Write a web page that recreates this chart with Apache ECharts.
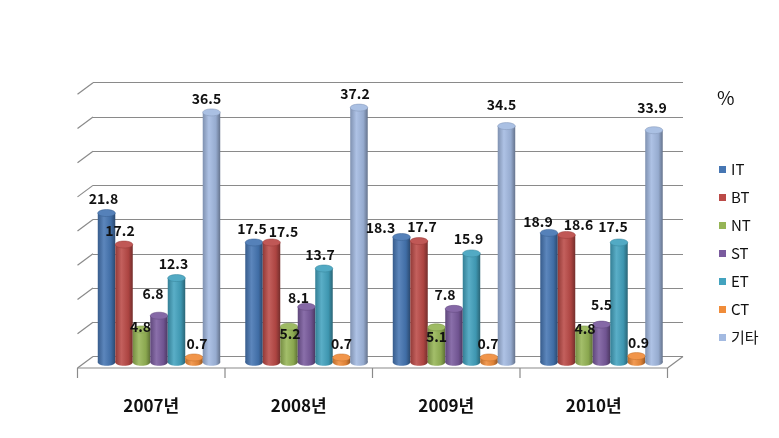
<!DOCTYPE html>
<html>
<head>
<meta charset="utf-8">
<script src="https://cdn.jsdelivr.net/npm/echarts@6/dist/echarts.min.js"></script>
<style>
  html, body { margin: 0; padding: 0; background: #fff; }
  #chart { width: 779px; height: 438px; }
</style>
</head>
<body>
<div id="chart"></div>
<script>
// 연도별 기술분야 비중 (%)
const years = ['2007년', '2008년', '2009년', '2010년'];
const names = ['IT', 'BT', 'NT', 'ST', 'ET', 'CT', '기타'];
const IT  = [21.8, 17.5, 18.3, 18.9];
const BT  = [17.2, 17.5, 17.7, 18.6];
const NT  = [4.8, 5.2, 5.1, 4.8];
const ST  = [6.8, 8.1, 7.8, 5.5];
const ET  = [12.3, 13.7, 15.9, 17.5];
const CT  = [0.7, 0.7, 0.7, 0.9];
const ETC = [36.5, 37.2, 34.5, 33.9];
const yMax = 40, yStep = 5;

const values = [IT, BT, NT, ST, ET, CT, ETC];
const colors = ['#4676b3', '#bb4a47', '#96b556', '#7a5b9e', '#43a3bf', '#f08c3a', '#a3bae1'];

// 데이터 레이블 위치 보정 [dx, dy] (원본에서 손으로 옮겨둔 레이블들)
const labelNudge = [
  [[-3, -14], [-2, -14], [-21, -9], [-11, -11]],
  [[-4, -14], [12, -11], [3, -14], [12, -10]],
  [[-1, -3], [1, 7], [0, 9], [1, -1]],
  [[-6, -22], [-8, -9], [-9, -14], [0, -20]],
  [[-3, -14], [-4, -14], [-3, -15], [-6, -16]],
  [[3, -14], [0, -14], [-1, -14], [2, -13]],
  [[-5, -14], [-4, -14], [-5, -21], [-2, -23]]
];

const FONT = '"Noto Sans CJK KR", "Noto Sans", sans-serif';
const DEPTH = [-15.5, 11.5];   // 뒤 벽 -> 앞 바닥

function shade(hex, f) {
  let n = parseInt(hex.slice(1), 16);
  let r = (n >> 16) & 255, g = (n >> 8) & 255, b = n & 255;
  const m = (c) => f <= 1 ? Math.round(c * f) : Math.round(c + (255 - c) * (f - 1));
  return 'rgb(' + m(r) + ',' + m(g) + ',' + m(b) + ')';
}

function cylGrad(col) {
  return new echarts.graphic.LinearGradient(0, 0, 1, 0, [
    { offset: 0, color: shade(col, 0.78) },
    { offset: 0.35, color: shade(col, 1.12) },
    { offset: 0.75, color: shade(col, 0.92) },
    { offset: 1, color: shade(col, 0.62) }
  ]);
}

function barRender(idx) {
  const col = colors[idx];
  return function (params, api) {
    const cat = api.value(0), v = api.value(1);
    const band = api.size([1, 0])[0];
    const bw = band * 0.1186;
    const base = api.coord([cat, 0]);
    const top = api.coord([cat, v]);
    const cx = base[0] + DEPTH[0] / 2 + (idx - 3) * bw;
    const yb = base[1] + DEPTH[1] / 2;
    const yt = top[1] + DEPTH[1] / 2;
    const ry = 3.5;
    const nd = labelNudge[idx][cat];
    return {
      type: 'group',
      children: [
        { type: 'ellipse', shape: { cx: cx, cy: yb, rx: bw / 2, ry: ry }, style: { fill: cylGrad(col) } },
        { type: 'rect', shape: { x: cx - bw / 2, y: yt, width: bw, height: yb - yt }, style: { fill: cylGrad(col) } },
        { type: 'ellipse', shape: { cx: cx, cy: yt, rx: bw / 2, ry: ry }, style: { fill: shade(col, 1.08), stroke: shade(col, 0.8), lineWidth: 0.5 } },
        { type: 'text', z2: 10, style: {
            text: String(v), x: cx + nd[0], y: yt + nd[1],
            align: 'center', verticalAlign: 'middle',
            fontSize: 14, fontWeight: 'bold', fontFamily: FONT, fill: '#111'
        } }
      ]
    };
  };
}

function frameRender(params, api) {
  const cs = params.coordSys;
  const x0 = cs.x, x1 = cs.x + cs.width;
  const band = cs.width / years.length;
  const yb = api.coord([0, 0])[1];
  const ls = { stroke: '#8a8a8a', lineWidth: 1.2 };
  const kids = [];
  for (let v = 0; v <= yMax; v += yStep) {
    const y = api.coord([0, v])[1];
    kids.push({ type: 'line', shape: { x1: x0, y1: y, x2: x0 + DEPTH[0], y2: y + DEPTH[1] }, style: ls });
  }
  const fy = yb + DEPTH[1];
  kids.push({ type: 'line', shape: { x1: x0 + DEPTH[0], y1: fy, x2: x1 + DEPTH[0], y2: fy }, style: ls });
  kids.push({ type: 'line', shape: { x1: x1, y1: yb, x2: x1 + DEPTH[0], y2: fy }, style: ls });
  for (let k = 0; k <= years.length; k++) {
    const x = x0 + DEPTH[0] + k * band;
    kids.push({ type: 'line', shape: { x1: x, y1: fy, x2: x, y2: fy + 10 }, style: ls });
  }
  return { type: 'group', children: kids };
}

const chart = echarts.init(document.getElementById('chart'), null, { renderer: 'canvas' });

const series = [{
  type: 'custom',
  name: 'frame',
  silent: true,
  z: 1,
  renderItem: frameRender,
  data: [[0, 0]]
}];
names.forEach(function (n, i) {
  series.push({
    type: 'custom',
    name: n,
    z: 2,
    itemStyle: { color: colors[i] },
    renderItem: barRender(i),
    data: values[i].map(function (v, j) { return [j, v]; })
  });
});

chart.setOption({
  animation: false,
  backgroundColor: '#fff',
  grid: { left: 93, right: 96, top: 82.7, bottom: 81.5 },
  xAxis: {
    type: 'category',
    data: years,
    axisLine: { show: false },
    axisTick: { show: false },
    axisLabel: {
      margin: 41,
      fontSize: 17,
      fontWeight: 'bold',
      fontFamily: FONT,
      color: '#111',
      padding: [0, 31, 0, 0]
    }
  },
  yAxis: {
    type: 'value',
    min: 0,
    max: yMax,
    interval: yStep,
    axisLine: { show: false },
    axisTick: { show: false },
    axisLabel: { show: false },
    splitLine: { lineStyle: { color: '#8a8a8a', width: 1.2 } }
  },
  legend: {
    data: names,
    orient: 'vertical',
    left: 714,
    top: 157,
    icon: 'rect',
    itemWidth: 7,
    itemHeight: 7,
    itemGap: 13,
    textStyle: { fontSize: 15, fontFamily: FONT, color: '#111', padding: [2, 0, 0, 0] }
  },
  graphic: [{
    type: 'text',
    left: 717,
    top: 88,
    style: { text: '%', fontSize: 19, fontFamily: FONT, fill: '#111' }
  }],
  series: series
});
</script>
</body>
</html>
